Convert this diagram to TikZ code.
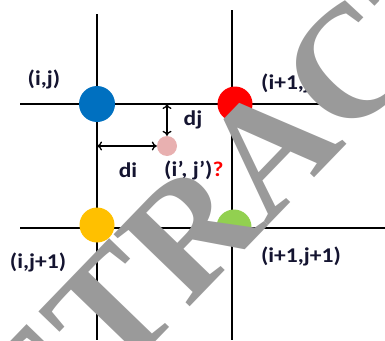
\documentclass[tikz,border=0pt]{standalone}
\usepackage{fontspec}
\newfontfamily\lblfont{Carlito}
\newfontfamily\wmfont{Liberation Serif}
\usepackage{tikz}
\usetikzlibrary{positioning,arrows.meta}

\definecolor{ptblue}{HTML}{0070C0}
\definecolor{ptred}{HTML}{FF0000}
\definecolor{ptyellow}{HTML}{FFC000}
\definecolor{ptgreen}{HTML}{92D050}
\definecolor{ptpink}{HTML}{E8B0B0}
\definecolor{wmgray}{HTML}{9A9A9A}
\definecolor{lblink}{HTML}{141430}

\begin{document}
\begin{tikzpicture}[x=1pt,y=-1pt,
  grid/.style={line width=2.6pt},
  pt/.style={circle,inner sep=0pt,minimum size=35pt},
  lbl/.style={inner sep=0pt,text=lblink,font=\lblfont\bfseries\fontsize{21}{21}\selectfont,xscale=1.12},
  dist/.style={line width=1.3pt,{To[length=5pt,width=9pt]}-{To[length=5pt,width=9pt]}}]
\useasboundingbox (0,0) rectangle (385,340);
% grid
\coordinate (v1t) at (97,14);  \coordinate (v1b) at (97,340);
\coordinate (v2t) at (232,10); \coordinate (v2b) at (232,340);
\coordinate (h1l) at (20,104); \coordinate (h1r) at (385,104);
\coordinate (h2l) at (20,228); \coordinate (h2r) at (385,228);
\draw[grid] (v1t)--(v1b);
\draw[grid] (v2t)--(v2b);
\draw[grid] (h1l)--(h1r);
\draw[grid] (h2l)--(h2r);
% grid points
\node[pt,fill=ptblue,minimum size=36pt] (ij) at (97,104) {};
\node[pt,fill=ptred] (i1j) at (235,104) {};
\node[pt,fill=ptyellow] (ij1) at (97,225) {};
\node[pt,fill=ptgreen] (i1j1) at (234,227) {};
\node[circle,inner sep=0pt,minimum size=20pt,fill=ptpink] (p) at (167,146) {};
% distances
\coordinate (dj0) at (167,104);
\coordinate (di0) at (97,146);
\draw[dist] (dj0)--(p.north);
\draw[dist] (di0)--(p.west);
\node[lbl] (djl) at (193,120) {dj};
\node[lbl] (dil) at (128,170) {di};
% labels
\node[lbl] (lij) at (44,79) {(i,j)};
\node[lbl,anchor=west] (li1j) at (261,83) {(i+1,j)};
\node[lbl] (lij1) at (38,262) {(i,j+1)};
\node[lbl] (li1j1) at (301,256) {(i+1,j+1)};
\node[lbl,anchor=west] (lp) at (164,170) {(i’, j’)\textcolor{ptred}{?}};
% watermark
\begin{scope}
\clip (0,0) rectangle (385,340);
\node[rotate=46,inner sep=0pt,text=wmgray,font=\wmfont\bfseries\fontsize{160}{160}\selectfont] (wm) at (270,149) {RETRACTED};
\end{scope}
\end{tikzpicture}
\end{document}
